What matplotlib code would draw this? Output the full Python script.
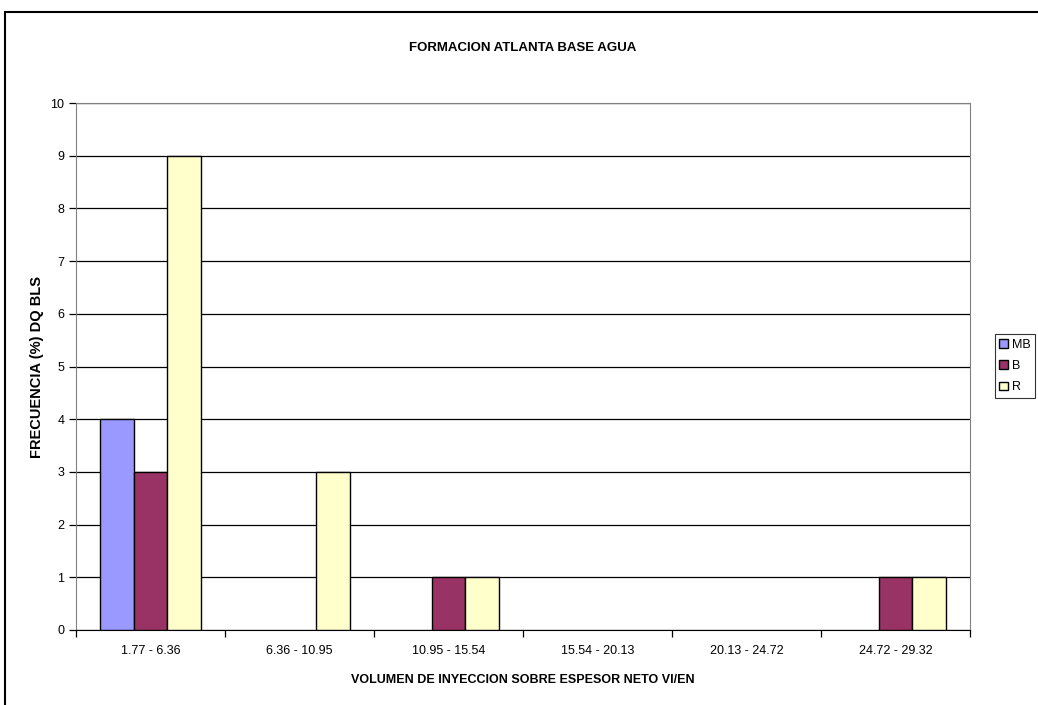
import matplotlib
matplotlib.use("Agg")
import matplotlib.pyplot as plt
import numpy as np
from matplotlib.patches import Rectangle

categories = ["1.77 - 6.36", "6.36 - 10.95", "10.95 - 15.54", "15.54 - 20.13", "20.13 - 24.72", "24.72 - 29.32"]
series_names = ["MB", "B", "R"]
mb = [4, 0, 0, 0, 0, 0]
b = [3, 0, 1, 0, 0, 1]
r = [9, 3, 1, 0, 0, 1]
colors = ["#9999FF", "#993366", "#FFFFCC"]

plt.rcParams['font.family'] = ['Liberation Sans', 'DejaVu Sans']

fig = plt.figure(figsize=(10.38, 7.05), dpi=100)
W, H = 1038, 705
ax = fig.add_axes([76 / W, 1 - 630 / H, (970 - 76) / W, (630 - 103) / H])

x = np.arange(len(categories))
bw = 0.225
for i, (vals, c, name) in enumerate(zip([mb, b, r], colors, series_names)):
    bars = ax.bar(x + (i - 1) * bw, vals, width=bw, color=c, edgecolor="black", linewidth=1.0, label=name, zorder=3)
    for bar, v in zip(bars, vals):
        if v == 0:
            bar.set_visible(False)

ax.set_xlim(-0.5, len(categories) - 0.5)
ax.set_ylim(0, 10)
ax.set_yticks(range(0, 11))
ax.yaxis.grid(True, color="black", linewidth=0.9, zorder=0)
ax.set_xticks(x)
ax.set_xticklabels(categories, fontsize=9)
ax.set_xticks(np.arange(-0.5, len(categories), 1), minor=True)
ax.tick_params(axis="x", which="major", length=0, pad=11)
ax.tick_params(axis="x", which="minor", length=5, direction="out", width=0.9)
ax.tick_params(axis="y", length=5, direction="out", labelsize=9, width=0.9)

for side in ["top", "right"]:
    ax.spines[side].set_color("#808080")
ax.spines["left"].set_color("#808080")
ax.spines["bottom"].set_color("black")

ax.set_xlabel("VOLUMEN DE INYECCION SOBRE ESPESOR NETO VI/EN", fontsize=9, fontweight="bold", labelpad=12)
ax.set_ylabel("FRECUENCIA (%) DQ BLS", fontsize=10.5, fontweight="bold")
ax.yaxis.set_label_coords(-32 / (970 - 76), 0.5)
fig.text(0.5 * (76 + 970) / W, 1 - 48 / H, "FORMACION ATLANTA BASE AGUA", fontsize=9.5,
         fontweight="bold", ha="center", va="center")

leg = ax.legend(loc="center left", bbox_to_anchor=(995 / W, 1 - 366 / H), bbox_transform=fig.transFigure,
                fontsize=9, frameon=True, fancybox=False, edgecolor="black", handlelength=0.7,
                handleheight=0.7, handletextpad=0.3, borderpad=0.35, labelspacing=0.75, borderaxespad=0)
leg.get_frame().set_linewidth(0.8)

# outer chart frame
fig.patches.append(Rectangle((5 / W, -0.1), 1.2, 1 - 12 / H + 0.1, transform=fig.transFigure,
                             fill=False, edgecolor="black", linewidth=1.5))

fig.savefig("out.png", dpi=100)
